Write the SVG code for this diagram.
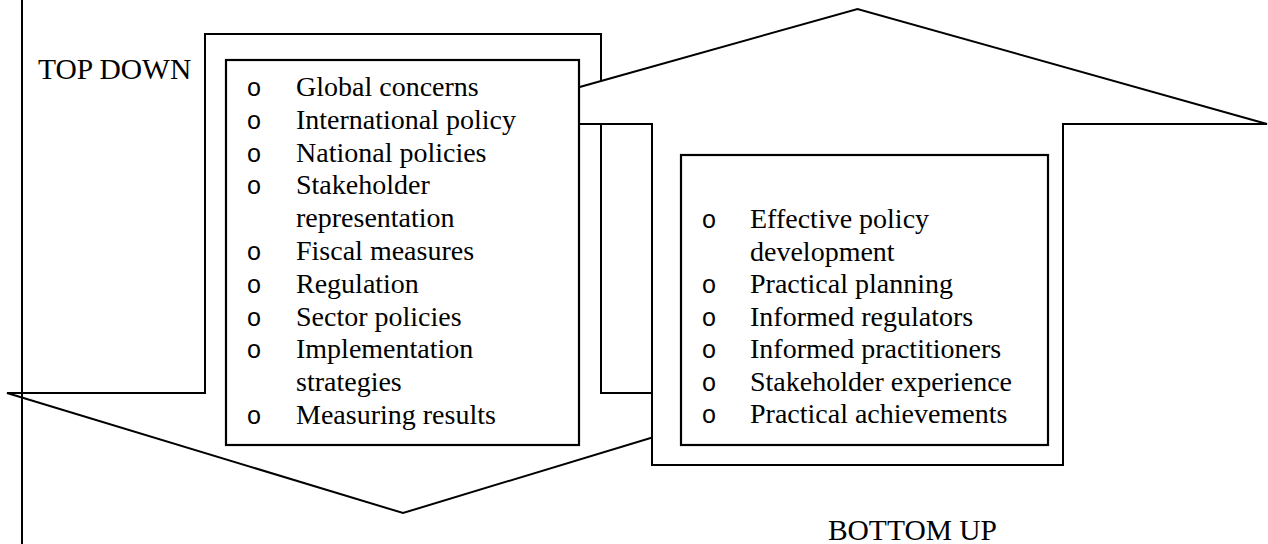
<svg xmlns="http://www.w3.org/2000/svg" width="1268" height="544" viewBox="0 0 1268 544">
  <style>
    .shape { fill: #ffffff; stroke: #000000; stroke-width: 2; stroke-linejoin: miter; }
    .box { fill: #ffffff; stroke: #000000; stroke-width: 2.2; }
    .txt { font-family: "Liberation Serif", "Times New Roman", serif; font-size: 28px; fill: #000000; }
    .bul { font-family: "Liberation Mono", "Courier New", monospace; font-size: 25px; fill: #000000; text-anchor: middle; }
    .lbl { font-family: "Liberation Serif", "Times New Roman", serif; font-size: 29.5px; fill: #000000; }
  </style>

  <g id="top-down-arrow">
    <polygon class="shape" points="205,34 601,34 601,393 799,393 403,513 7,393 205,393"/>
  </g>

  <g id="bottom-up-arrow">
    <polygon class="shape" points="652,465 652,124 448,124 857.5,9 1267,124 1063,124 1063,465"/>
  </g>

  <g id="top-down-box">
    <rect class="box" x="226" y="60" width="353" height="385"/>
    <text class="bul" x="254" y="96">o</text><text class="txt" x="296" y="96">Global concerns</text>
    <text class="bul" x="254" y="128.8">o</text><text class="txt" x="296" y="128.8">International policy</text>
    <text class="bul" x="254" y="161.6">o</text><text class="txt" x="296" y="161.6">National policies</text>
    <text class="bul" x="254" y="194.4">o</text><text class="txt" x="296" y="194.4">Stakeholder</text>
    <text class="txt" x="296" y="227.2">representation</text>
    <text class="bul" x="254" y="260">o</text><text class="txt" x="296" y="260">Fiscal measures</text>
    <text class="bul" x="254" y="292.8">o</text><text class="txt" x="296" y="292.8">Regulation</text>
    <text class="bul" x="254" y="325.6">o</text><text class="txt" x="296" y="325.6">Sector policies</text>
    <text class="bul" x="254" y="358.4">o</text><text class="txt" x="296" y="358.4">Implementation</text>
    <text class="txt" x="296" y="391.2">strategies</text>
    <text class="bul" x="254" y="424">o</text><text class="txt" x="296" y="424">Measuring results</text>
  </g>

  <g id="bottom-up-box">
    <rect class="box" x="681" y="155" width="367" height="290"/>
    <text class="bul" x="709" y="228">o</text><text class="txt" x="750" y="228">Effective policy</text>
    <text class="txt" x="750" y="260.5">development</text>
    <text class="bul" x="709" y="293">o</text><text class="txt" x="750" y="293">Practical planning</text>
    <text class="bul" x="709" y="325.5">o</text><text class="txt" x="750" y="325.5">Informed regulators</text>
    <text class="bul" x="709" y="358">o</text><text class="txt" x="750" y="358">Informed practitioners</text>
    <text class="bul" x="709" y="390.5">o</text><text class="txt" x="750" y="390.5">Stakeholder experience</text>
    <text class="bul" x="709" y="423">o</text><text class="txt" x="750" y="423">Practical achievements</text>
  </g>

  <g id="labels">
    <text class="lbl" x="38" y="79">TOP DOWN</text>
    <text class="lbl" x="997" y="540" text-anchor="end">BOTTOM UP</text>
  </g>

  <g id="connectors">
    <line x1="22" y1="0" x2="22" y2="544" stroke="#000000" stroke-width="2"/>
  </g>
</svg>
